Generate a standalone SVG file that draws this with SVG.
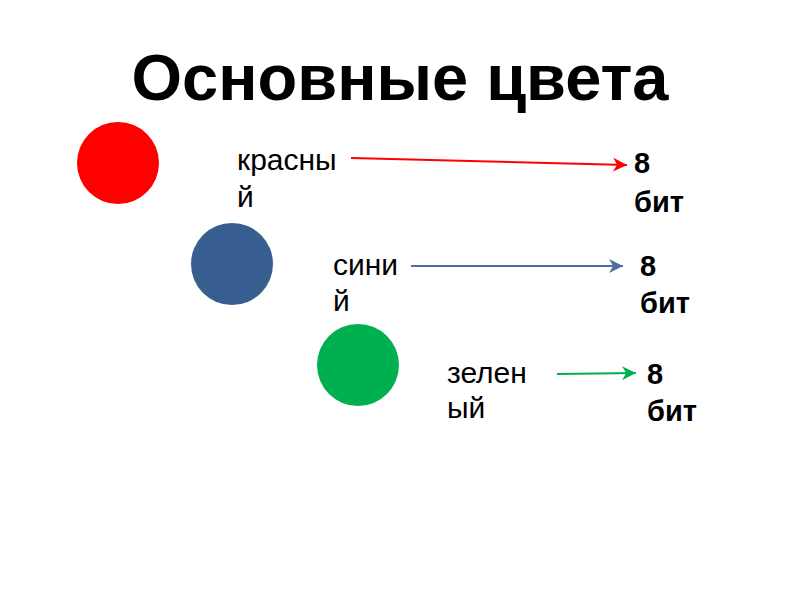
<svg xmlns="http://www.w3.org/2000/svg" width="800" height="600" viewBox="0 0 800 600">
<defs>
<style>
.t{font-family:"Liberation Sans",Arial,sans-serif;}
.title{font-size:65px;font-weight:bold;fill:#000;}
.lbl{font-size:30px;fill:#000;}
.bit{font-size:29px;font-weight:bold;fill:#000;}
.c{stroke-width:2;fill:none;}
</style>
<marker id="ar" viewBox="0 0 10 10" refX="10" refY="5" markerWidth="7" markerHeight="7" orient="auto"><path d="M0,0 L10,5 L0,10 L3,5 z" fill="#FF0000"/></marker>
<marker id="ab" viewBox="0 0 10 10" refX="10" refY="5" markerWidth="7" markerHeight="7" orient="auto"><path d="M0,0 L10,5 L0,10 L3,5 z" fill="#4A6EA0"/></marker>
<marker id="ag" viewBox="0 0 10 10" refX="10" refY="5" markerWidth="7" markerHeight="7" orient="auto"><path d="M0,0 L10,5 L0,10 L3,5 z" fill="#00B050"/></marker>
</defs>
<rect width="800" height="600" fill="#fff"/>
<text class="t title" x="400" y="100" text-anchor="middle">Основные цвета</text>
<g id="red">
<circle cx="118" cy="163" r="41" fill="#FF0000"/>
<text class="t lbl" x="237" y="170">красны</text>
<text class="t lbl" x="237" y="207">й</text>
</g>
<g id="blue">
<circle cx="232" cy="264" r="41" fill="#375E8F"/>
<text class="t lbl" x="333" y="275">сини</text>
<text class="t lbl" x="333" y="311">й</text>
</g>
<g id="green">
<circle cx="358" cy="365" r="41" fill="#00B050"/>
<text class="t lbl" x="447" y="383">зелен</text>
<text class="t lbl" x="447" y="418">ый</text>
</g>
<g id="bit1">
<text class="t bit" x="634" y="173">8</text>
<text class="t bit" x="634" y="212">бит</text>
</g>
<g id="bit2">
<text class="t bit" x="640" y="276">8</text>
<text class="t bit" x="640" y="313">бит</text>
</g>
<g id="bit3">
<text class="t bit" x="647" y="384">8</text>
<text class="t bit" x="647" y="421">бит</text>
</g>
<g id="connectors">
<line class="c" x1="351" y1="158" x2="627" y2="165" stroke="#FF0000" marker-end="url(#ar)"/>
<line class="c" x1="411" y1="266" x2="623" y2="266" stroke="#4A6EA0" marker-end="url(#ab)"/>
<line class="c" x1="557" y1="374" x2="636" y2="373" stroke="#00B050" marker-end="url(#ag)"/>
</g>
</svg>
